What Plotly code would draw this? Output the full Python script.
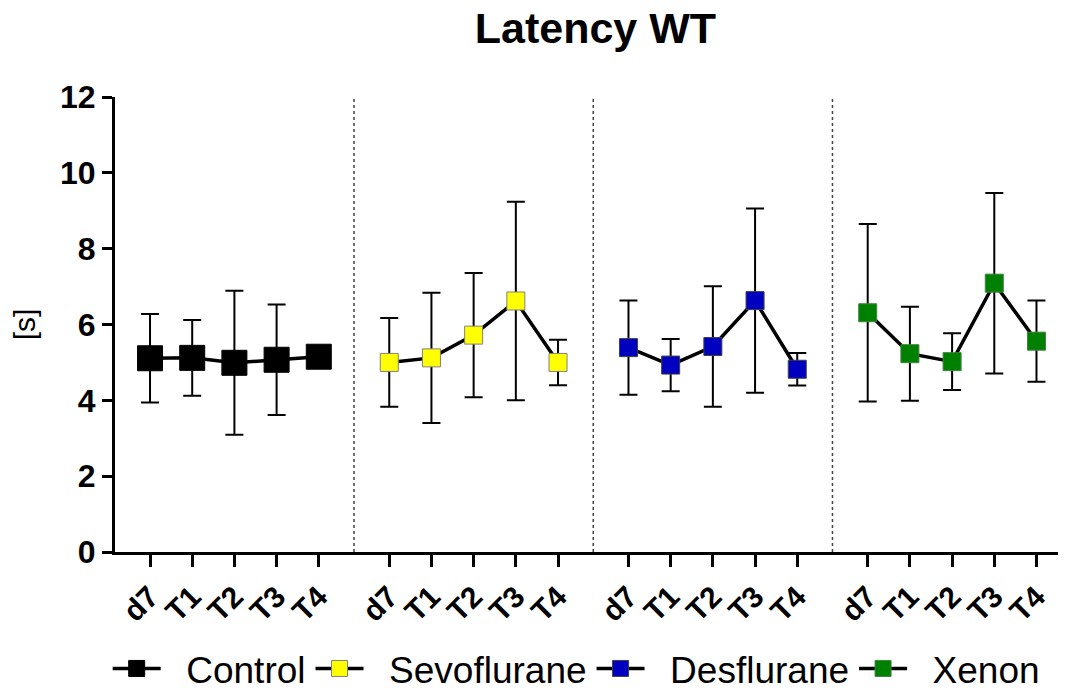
import plotly.graph_objects as go

# Time points measured in every group
timepoints = ["d7", "T1", "T2", "T3", "T4"]
groups = ["Control", "Sevoflurane", "Desflurane", "Xenon"]

# Mean latency [s] per group and time point
control_mean = [5.11, 5.12, 4.99, 5.07, 5.15]
sevo_mean = [5.00, 5.12, 5.72, 6.62, 5.00]
des_mean = [5.39, 4.93, 5.42, 6.63, 4.82]
xenon_mean = [6.31, 5.23, 5.02, 7.09, 5.56]

# Standard deviations [s]
control_sd = [1.17, 1.00, 1.90, 1.46, 0.10]
sevo_sd = [1.17, 1.72, 1.64, 2.62, 0.60]
des_sd = [1.24, 0.69, 1.59, 2.43, 0.43]
xenon_sd = [2.34, 1.24, 0.75, 2.38, 1.07]

means = [control_mean, sevo_mean, des_mean, xenon_mean]
sds = [control_sd, sevo_sd, des_sd, xenon_sd]

fill_colors = ["#000000", "#FFFF00", "#0000C0", "#008000"]
edge_colors = ["#000000", "#808080", "#404040", "#408040"]
marker_sizes = [25, 18, 18, 18]

GROUP_STEP = 5.67  # spacing between group starts on the x axis
FONT = "Liberation Sans, Arial, sans-serif"
PAD = "\u00a0\u00a0"  # breathing room between legend symbol and label

fig = go.Figure()

tick_vals, tick_text = [], []
group_x = []
for g, name in enumerate(groups):
    xs = [g * GROUP_STEP + i for i in range(len(timepoints))]
    group_x.append(xs)
    tick_vals += xs
    tick_text += timepoints
    fig.add_trace(go.Scatter(
        x=xs, y=means[g], name=PAD + name,
        mode="lines+markers",
        line=dict(color="black", width=3.5),
        marker=dict(symbol="square", size=marker_sizes[g], color=fill_colors[g],
                    line=dict(color=edge_colors[g], width=1)),
        error_y=dict(type="data", array=sds[g], visible=True,
                     color="black", thickness=2, width=9),
    ))

# Dotted separators between the groups
for g in range(len(groups) - 1):
    xm = (group_x[g][-1] + group_x[g + 1][0]) / 2
    fig.add_shape(type="line", xref="x", yref="paper", x0=xm, x1=xm, y0=0, y1=1,
                  line=dict(color="#444444", width=1.5, dash="dot"), layer="below")

fig.update_layout(
    width=1067, height=691,
    margin=dict(l=115, r=9, t=97, b=139),
    paper_bgcolor="white", plot_bgcolor="white",
    font=dict(family=FONT, color="black"),
    title=dict(text="<b>Latency WT</b>", xref="container", x=0.558, xanchor="center",
               yref="container", y=0.959, yanchor="middle", font=dict(size=43, family=FONT)),
    showlegend=True,
    legend=dict(orientation="h", xref="container", x=0.54, xanchor="center",
                yref="container", y=0.032, yanchor="middle",
                font=dict(size=37, family=FONT), itemwidth=48, tracegroupgap=0),
    xaxis=dict(range=[-0.83, 21.52], tickvals=tick_vals, ticktext=tick_text,
               tickangle=-45, ticks="outside", ticklen=12, tickwidth=3, tickcolor="black",
               showline=True, linecolor="black", linewidth=3, showgrid=False, zeroline=False,
               tickfont=dict(size=30, family=FONT, weight="bold")),
    yaxis=dict(range=[0, 12], tickvals=[0, 2, 4, 6, 8, 10, 12],
               ticks="outside", ticklen=10, tickwidth=3, tickcolor="black",
               showline=True, linecolor="black", linewidth=3, showgrid=False, zeroline=False,
               tickfont=dict(size=32, family=FONT, weight="bold"),
               title=dict(text="[s]", font=dict(size=30, family=FONT), standoff=16)),
)

fig.write_html("out.html")
